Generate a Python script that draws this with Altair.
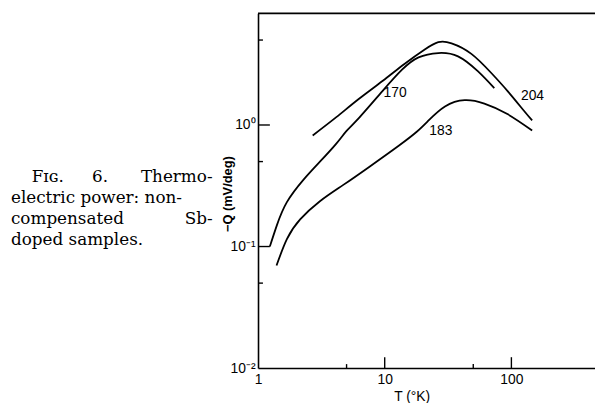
import altair as alt
import pandas as pd

# ---- data ----
T_204 = [2.70, 4.15, 6.20, 9.60, 14.4, 20.7, 26.5, 33.7, 48.3, 69.1, 93.0, 125.6, 145.8]
Q_204 = [0.82, 1.16, 1.63, 2.30, 3.19, 4.18, 4.80, 4.70, 3.85, 2.69, 1.91, 1.31, 1.09]

T_170 = [1.24, 1.41, 1.69, 2.28, 3.08, 4.15, 5.0, 6.30, 9.60, 13.7, 18.5, 26.5, 37.9, 54.3, 73.3]
Q_170 = [0.100, 0.150, 0.232, 0.354, 0.499, 0.703, 0.895, 1.15, 1.90, 2.85, 3.60, 3.91, 3.67, 2.77, 2.01]

T_183 = [1.40, 1.69, 2.15, 3.08, 4.68, 7.54, 12.9, 17.9, 22.0, 29.9, 42.8, 61.2, 93.0, 145.8]
Q_183 = [0.0698, 0.115, 0.167, 0.236, 0.320, 0.452, 0.675, 0.88, 1.08, 1.42, 1.60, 1.50, 1.23, 0.902]

curve_names = ["204", "170", "183"]
label_T = [119.0, 9.8, 22.5]
label_Q = [1.74, 1.84, 0.90]

x_major = [10, 100]
x_minor = [5, 50]
y_major = [1, 0.1]
y_minor = [5, 0.5, 0.05]

x_tick_labels = [1, 10, 100]
y_tick_labels = [0.01, 0.1, 1]

caption_words_1 = ["Fɪɢ.", "6.", "Thermo-"]
caption_lines = ["electric power: non-", "compensated", "Sb-", "doped samples."]
y_title = "−Q (mV/deg)"
x_title = "T (°K)"

# ---- layout ----
W = 341
H = 359
PAD = {"left": 253, "top": 3, "right": 0, "bottom": 33}
SANS = "Liberation Sans"
SERIF = "DejaVu Serif"

xs = alt.Scale(type="log", domain=[1, 457])
ys = alt.Scale(type="log", domain=[0.01, 8.3])


def X(**kw):
    return alt.X("T:Q", scale=xs, title=None, **kw)


def Y(**kw):
    return alt.Y("Q:Q", scale=ys, title=None, **kw)


rows = []
for name, ts, qs in [("204", T_204, Q_204), ("170", T_170, Q_170), ("183", T_183, Q_183)]:
    for t, q in zip(ts, qs):
        rows.append({"T": t, "Q": q, "sample": name})
df = pd.DataFrame(rows)

curves = alt.Chart(df).mark_line(color="black", strokeWidth=1.8, interpolate="natural").encode(
    x=X(axis=alt.Axis(
        values=x_tick_labels, format="d", grid=False, ticks=False, tickSize=0,
        domain=True, domainColor="black", domainWidth=1.6, labelFont=SANS, labelFontSize=14,
        labelColor="black", labelPadding=5, labelFlush=False)),
    y=Y(axis=alt.Axis(
        values=y_tick_labels, grid=False, ticks=False, tickSize=0,
        labelExpr="datum.value >= 0.99 ? '10⁰' : datum.value >= 0.099 ? '10⁻¹' : '10⁻²'",
        domain=True, domainColor="black", domainWidth=1.6, labelFont=SANS, labelFontSize=14,
        labelColor="black", labelPadding=3)),
    detail="sample:N",
)

labels = alt.Chart(pd.DataFrame({"T": label_T, "Q": label_Q, "name": curve_names})).mark_text(
    align="left", baseline="middle", font=SANS, fontSize=14, color="black"
).encode(x=X(), y=Y(), text="name:N")

x_ticks_major = alt.Chart(pd.DataFrame({"T": x_major})).mark_rule(color="black", strokeWidth=1.4).encode(
    x=X(), y=alt.value(H), y2=alt.value(H - 11))
x_ticks_minor = alt.Chart(pd.DataFrame({"T": x_minor})).mark_rule(color="black", strokeWidth=1.4).encode(
    x=X(), y=alt.value(H), y2=alt.value(H - 4))
y_ticks_major = alt.Chart(pd.DataFrame({"Q": y_major})).mark_rule(color="black", strokeWidth=1.4).encode(
    y=Y(), x=alt.value(0), x2=alt.value(12))
y_ticks_minor = alt.Chart(pd.DataFrame({"Q": y_minor})).mark_rule(color="black", strokeWidth=1.4).encode(
    y=Y(), x=alt.value(0), x2=alt.value(5))

one = pd.DataFrame({"a": [0]})
top_border = alt.Chart(one).mark_rule(color="black", strokeWidth=1.8).encode(
    x=alt.value(0), x2=alt.value(W), y=alt.value(0))


def txt(s, x, y, **kw):
    return alt.Chart(one).mark_text(**kw).encode(text=alt.value(s), x=alt.value(x), y=alt.value(y))


ytitle = txt(y_title, -30, 183, angle=270, font=SANS, fontSize=13, fontWeight="bold", color="black",
             align="center", baseline="middle")
xtitle = txt(x_title, 156, 388, font=SANS, fontSize=14, color="black",
             align="center", baseline="middle")

cap_kw = dict(font=SERIF, fontSize=17, color="black", baseline="middle")
cap = [
    txt(caption_words_1[0], -229, 166, align="left", **cap_kw),
    txt(caption_words_1[1], -168, 166, align="left", **cap_kw),
    txt(caption_words_1[2], -46, 166, align="right", **cap_kw),
    txt(caption_lines[0], -250, 187, align="left", **cap_kw),
    txt(caption_lines[1], -250, 208, align="left", **cap_kw),
    txt(caption_lines[2], -46, 208, align="right", **cap_kw),
    txt(caption_lines[3], -250, 229, align="left", **cap_kw),
]

chart = alt.layer(
    curves, labels, x_ticks_major, x_ticks_minor, y_ticks_major, y_ticks_minor,
    top_border, ytitle, xtitle, *cap
).properties(
    width=W, height=H, padding=PAD, autosize=alt.AutoSizeParams(type="none"),
    background="white",
).configure_view(stroke=None)

chart.save("out.html", embed_options={"renderer": "svg", "actions": False})
